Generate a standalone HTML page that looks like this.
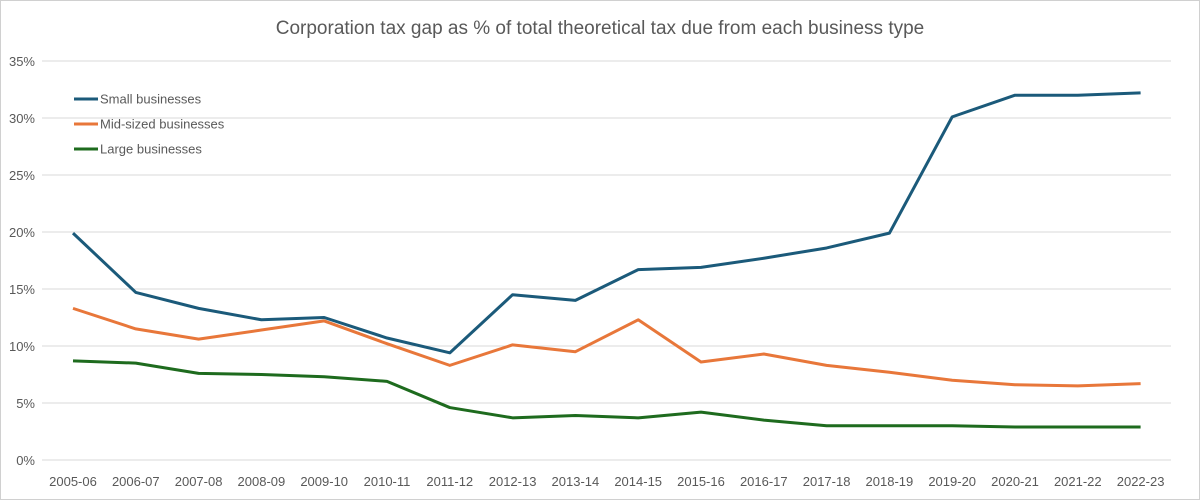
<!DOCTYPE html>
<html><head><meta charset="utf-8"><style>
body{margin:0;background:#fff;font-family:"Liberation Sans",sans-serif}
#wrap{position:relative;width:1198px;height:498px;border:1px solid #d0d0d0;overflow:hidden}
</style></head><body>
<div id="wrap">
<svg id="chart" width="1198" height="498"></svg>
</div>
<script>
const categories=["2005-06","2006-07","2007-08","2008-09","2009-10","2010-11","2011-12","2012-13","2013-14","2014-15","2015-16","2016-17","2017-18","2018-19","2019-20","2020-21","2021-22","2022-23"];
const smallValues=[19.9,14.7,13.3,12.3,12.5,10.7,9.4,14.5,14.0,16.7,16.9,17.7,18.6,19.9,30.1,32.0,32.0,32.2];
const midValues=[13.3,11.5,10.6,11.4,12.2,10.2,8.3,10.1,9.5,12.3,8.6,9.3,8.3,7.7,7.0,6.6,6.5,6.7];
const largeValues=[8.7,8.5,7.6,7.5,7.3,6.9,4.6,3.7,3.9,3.7,4.2,3.5,3.0,3.0,3.0,2.9,2.9,2.9];
const yTicks=[0,5,10,15,20,25,30,35];
const seriesNames=["Small businesses","Mid-sized businesses","Large businesses"];
const NS="http://www.w3.org/2000/svg";
const svg=document.getElementById('chart');
const x0=72,dx=62.8,yTop=60,yBot=459,yMax=35;
const xs=i=>x0+i*dx;
const ys=v=>yBot-(v/yMax)*(yBot-yTop);
function mk(t,a){const e=document.createElementNS(NS,t);for(const k in a)e.setAttribute(k,a[k]);svg.appendChild(e);return e;}
let t=mk('text',{x:599,y:33,'text-anchor':'middle','font-size':19,fill:'#595959'});
t.textContent="Corporation tax gap as % of total theoretical tax due from each business type";


yTicks.forEach(v=>{
 const l=mk('line',{x1:41,x2:1170,y1:ys(v),y2:ys(v),stroke:'#d9d9d9','stroke-width':1});
 
 
 const tx=mk('text',{x:34,y:ys(v)+5,'text-anchor':'end','font-size':13,fill:'#595959'});
 tx.textContent=v+'%';
 
 
});
categories.forEach((c,i)=>{
 const tx=mk('text',{x:xs(i),y:485,'text-anchor':'middle','font-size':13,fill:'#595959'});
 tx.textContent=c;
 
 
});
const colors=['#1b5a7a','#e8773a','#1e6b1e'];
[smallValues,midValues,largeValues].forEach((vals,s)=>{
 const p=mk('polyline',{points:vals.map((v,i)=>xs(i)+','+ys(v)).join(' '),fill:'none',stroke:colors[s],'stroke-width':3,'stroke-linejoin':'round'});
 
 
 const ly=98+s*25;
 const ll=mk('line',{x1:73,x2:97,y1:ly,y2:ly,stroke:colors[s],'stroke-width':3});
 
 
 const lt=mk('text',{x:99,y:ly+4.5,'font-size':13,fill:'#595959'});
 lt.textContent=seriesNames[s];
 
 
});
</script>
</body></html>
